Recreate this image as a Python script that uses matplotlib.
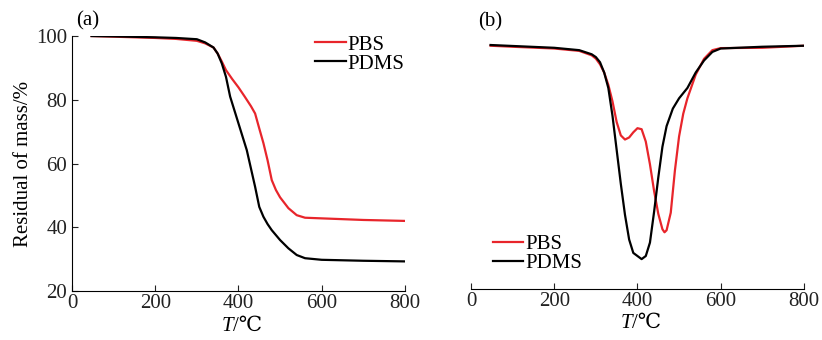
import numpy as np
import matplotlib
matplotlib.use("Agg")
import matplotlib.pyplot as plt

plt.rcParams['font.family'] = ['Liberation Serif', 'DejaVu Serif', 'Noto Sans CJK SC']

# (a) TG curves, residual mass %
tg_T_pbs = [47, 100, 200, 250, 300, 320, 340, 350, 360, 370, 385, 400, 415, 430,
            440, 450, 460, 470, 480, 490, 500, 520, 540, 560, 600, 700, 800]
tg_pbs = [100, 99.8, 99.4, 99.1, 98.5, 97.7, 96.4, 94.5, 92.0, 89.3, 86.5, 83.9,
          81.0, 78.0, 75.7, 71.0, 66.4, 61.0, 54.8, 51.7, 49.4, 46.0, 43.8, 43.0,
          42.8, 42.3, 42.0]
tg_T_pdms = [47, 100, 200, 250, 300, 320, 340, 350, 360, 370, 380, 390, 400, 420,
             440, 450, 460, 470, 480, 500, 520, 540, 560, 600, 700, 800]
tg_pdms = [100, 99.9, 99.6, 99.4, 99.0, 98.0, 96.4, 94.5, 91.4, 87.2, 81.0, 76.8,
           72.6, 64.2, 52.7, 46.4, 43.3, 41.0, 39.1, 36.0, 33.4, 31.3, 30.3, 29.8,
           29.5, 29.3]

# (b) DTG curves
dtg_T_pbs = [47, 100, 200, 260, 290, 300, 310, 320, 330, 340, 350, 360, 370, 380,
             390, 400, 410, 420, 430, 440, 450, 460, 465, 470, 480, 490, 500, 510,
             520, 540, 560, 580, 600, 700, 800]
dtg_pbs = [0, -0.01, -0.027, -0.05, -0.093, -0.125, -0.18, -0.26, -0.38, -0.54,
           -0.74, -0.87, -0.91, -0.89, -0.84, -0.80, -0.81, -0.93, -1.15, -1.41,
           -1.63, -1.78, -1.81, -1.79, -1.62, -1.21, -0.88, -0.66, -0.51, -0.28,
           -0.127, -0.043, -0.023, -0.02, 0]
dtg_T_pdms = [47, 200, 260, 290, 300, 310, 320, 330, 340, 350, 360, 370, 380, 390,
              400, 410, 420, 430, 440, 450, 460, 470, 485, 500, 520, 540, 560, 580,
              600, 700, 800]
dtg_pdms = [0.007, -0.02, -0.043, -0.083, -0.11, -0.16, -0.26, -0.41, -0.68, -1.01,
            -1.34, -1.64, -1.88, -2.01, -2.04, -2.07, -2.04, -1.91, -1.61, -1.28,
            -0.98, -0.78, -0.61, -0.51, -0.41, -0.26, -0.143, -0.06, -0.027, -0.01, 0]

labels = ["PBS", "PDMS"]
red = "#e8252b"
fs = 15

fig = plt.figure(figsize=(8.22, 3.4), dpi=100)
ax1 = fig.add_axes([0.0876, 0.144, 0.405, 0.75])
ax2 = fig.add_axes([0.573, 0.150, 0.405, 0.744])

ax1.plot(tg_T_pbs, tg_pbs, color=red, lw=1.6, label=labels[0])
ax1.plot(tg_T_pdms, tg_pdms, color="black", lw=1.6, label=labels[1])
ax1.set_xlim(0, 800)
ax1.set_ylim(20, 100)
ax1.set_xticks([0, 200, 400, 600, 800])
ax1.set_yticks([20, 40, 60, 80, 100])
ax1.set_ylabel("Residual of mass/%", fontsize=fs, labelpad=2)
ax1.text(0.012, 1.06, "(a)", transform=ax1.transAxes, fontsize=fs, va="center")
ax1.legend(frameon=False, fontsize=fs, loc="upper left", bbox_to_anchor=(0.7, 1.045),
           handlelength=1.45, handletextpad=0.1, labelspacing=-0.03, borderpad=0)

ax2.plot(dtg_T_pbs, dtg_pbs, color=red, lw=1.6, label=labels[0])
ax2.plot(dtg_T_pdms, dtg_pdms, color="black", lw=1.6, label=labels[1])
ax2.set_xlim(0, 800)
ax2.set_ylim(-2.36, 0.094)
ax2.set_xticks([0, 200, 400, 600, 800])
ax2.set_yticks([])
ax2.spines["left"].set_visible(False)
ax2.text(0.022, 1.055, "(b)", transform=ax2.transAxes, fontsize=fs, va="center")
ax2.legend(frameon=False, fontsize=fs, loc="upper left", bbox_to_anchor=(0.035, 0.255),
           handlelength=1.45, handletextpad=0.1, labelspacing=-0.03, borderpad=0)

for ax in (ax1, ax2):
    ax.spines["top"].set_visible(False)
    ax.spines["right"].set_visible(False)
    ax.tick_params(direction="in", length=4, labelsize=fs, colors="#222222")
    ax.tick_params(axis="x", pad=2)
    # x label: italic T followed by /℃
    ax.text(0.485, -0.1, "T", transform=ax.transAxes, fontsize=fs,
            style="italic", ha="right", va="top")
    ax.text(0.485, -0.1, "/℃", transform=ax.transAxes, fontsize=fs,
            ha="left", va="top")

fig.savefig("out.png", dpi=100)
